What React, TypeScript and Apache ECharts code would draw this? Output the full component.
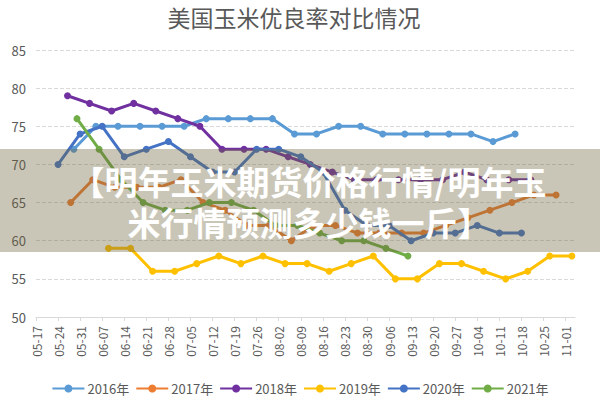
import React, { useEffect, useRef } from 'react';
import * as echarts from 'echarts';

const chartTitle = '美国玉米优良率对比情况';
const overlayLine1 = '【明年玉米期货价格行情/明年玉';
const overlayLine2 = '米行情预测多少钱一斤】';

const axisStart = '05-17';
const axisEndDay = 171;
const tickStepDays = 7;
const yMin = 50;
const yMax = 85;
const yStep = 5;

const seriesNames = ['2016年', '2017年', '2018年', '2019年', '2020年', '2021年'];
const seriesColors = ['#5B9BD5', '#ED7D31', '#7030A0', '#FFC000', '#4472C4', '#70AD47'];
const startDates = ['05-29', '05-28', '05-27', '06-09', '05-24', '05-30'];

const values2016 = [72, 75, 75, 75, 75, 75, 76, 76, 76, 76, 74, 74, 75, 75, 74, 74, 74, 74, 74, 73, 74];
const values2017 = [65, 68, 67, 67, 67, 68, 65, 64, 62, 62, 60, 62, 62, 61, 61, 61, 61, 62, 63, 64, 65, 66, 66];
const values2018 = [79, 78, 77, 78, 77, 76, 75, 72, 72, 72, 71, 70, 69, 68, 68, 68, 68, 68, 69, 68, 68, 68];
const values2019 = [59, 59, 56, 56, 57, 58, 57, 58, 57, 57, 56, 57, 58, 55, 55, 57, 57, 56, 55, 56, 58, 58];
const values2020 = [70, 74, 75, 71, 72, 73, 71, 69, 69, 72, 72, 71, 69, 64, 62, 62, 60, 61, 61, 62, 61, 61];
const values2021 = [76, 72, 68, 65, 64, 64, 65, 65, 64, 62, 62, 61, 60, 60, 59, 58];

const allValues = [values2016, values2017, values2018, values2019, values2020, values2021];

const REF_YEAR = 2021;
const DAY_MS = 86400000;
function mdToUTC(md: string) {
  const [m, d] = md.split('-').map(Number);
  return Date.UTC(REF_YEAR, m - 1, d);
}
const baseUTC = mdToUTC(axisStart);
function dayOffset(md: string) {
  return Math.round((mdToUTC(md) - baseUTC) / DAY_MS);
}
function pad(n: number) {
  return n < 10 ? '0' + n : '' + n;
}
function formatDay(v: number) {
  const dt = new Date(baseUTC + v * DAY_MS);
  return pad(dt.getUTCMonth() + 1) + '-' + pad(dt.getUTCDate());
}

const FONT = '"Noto Sans CJK SC", "Noto Sans", sans-serif';

export default function App() {
  const ref = useRef<HTMLDivElement>(null);
  useEffect(() => {
    if (!ref.current) return;
    const chart = echarts.init(ref.current, undefined, { renderer: 'svg' });
    const series = seriesNames.map((name, i) => {
      const start = dayOffset(startDates[i]);
      return {
        name,
        type: 'line',
        data: allValues[i].map((v, k) => [start + k * tickStepDays, v]),
        symbol: 'circle',
        symbolSize: 7,
        showSymbol: true,
        lineStyle: { width: 3, color: seriesColors[i] },
        itemStyle: { color: seriesColors[i] },
        z: 2 + i,
      };
    });
    chart.setOption({
      animation: false,
      textStyle: { fontFamily: FONT },
      title: {
        text: chartTitle,
        left: 294,
        top: 5,
        padding: 0,
        textAlign: 'center',
        textStyle: { fontSize: 23, fontWeight: 'normal', color: '#595959', fontFamily: FONT },
      },
      grid: { left: 36, right: 25, top: 50, bottom: 83, containLabel: false },
      xAxis: {
        type: 'value',
        min: 0,
        max: axisEndDay,
        interval: tickStepDays,
        axisLine: { show: true, lineStyle: { color: '#d9d9d9', width: 1 } },
        axisTick: { show: true, length: 4, lineStyle: { color: '#d9d9d9' } },
        splitLine: { show: false },
        axisLabel: {
          rotate: 90,
          fontSize: 12,
          color: '#595959',
          margin: 9,
          showMaxLabel: false,
          formatter: (v: number) => (v % tickStepDays === 0 ? formatDay(v) : ''),
        },
      },
      yAxis: {
        type: 'value',
        min: yMin,
        max: yMax,
        interval: yStep,
        axisLine: { show: false },
        axisTick: { show: false },
        axisLabel: { fontSize: 13, color: '#595959', margin: 10 },
        splitLine: { show: true, lineStyle: { type: 'dashed', color: '#d9d9d9' } },
      },
      legend: {
        bottom: 0,
        left: 'center',
        itemWidth: 32,
        itemHeight: 10,
        itemGap: 6,
        textStyle: { fontSize: 13, color: '#595959', padding: [0, 0, 0, -2] },
        data: seriesNames,
      },
      series,
      graphic: [
        {
          type: 'rect',
          shape: { x: 0, y: 149, width: 600, height: 103 },
          style: { fill: 'rgba(110,100,60,0.37)' },
          z: 100,
          silent: true,
        },
        {
          type: 'text',
          x: 309,
          y: 201,
          z: 101,
          style: {
            text: overlayLine1 + '\n' + overlayLine2,
            fill: '#ffffff',
            fontSize: 33,
            lineHeight: 41,
            fontWeight: 'bold',
            fontFamily: FONT,
            align: 'center',
            verticalAlign: 'middle',
          },
        },
      ],
    });
    return () => chart.dispose();
  }, []);
  return (
    <div
      ref={ref}
      style={{ position: 'fixed', left: 0, top: 0, width: 600, height: 400, background: '#fff' }}
    />
  );
}
